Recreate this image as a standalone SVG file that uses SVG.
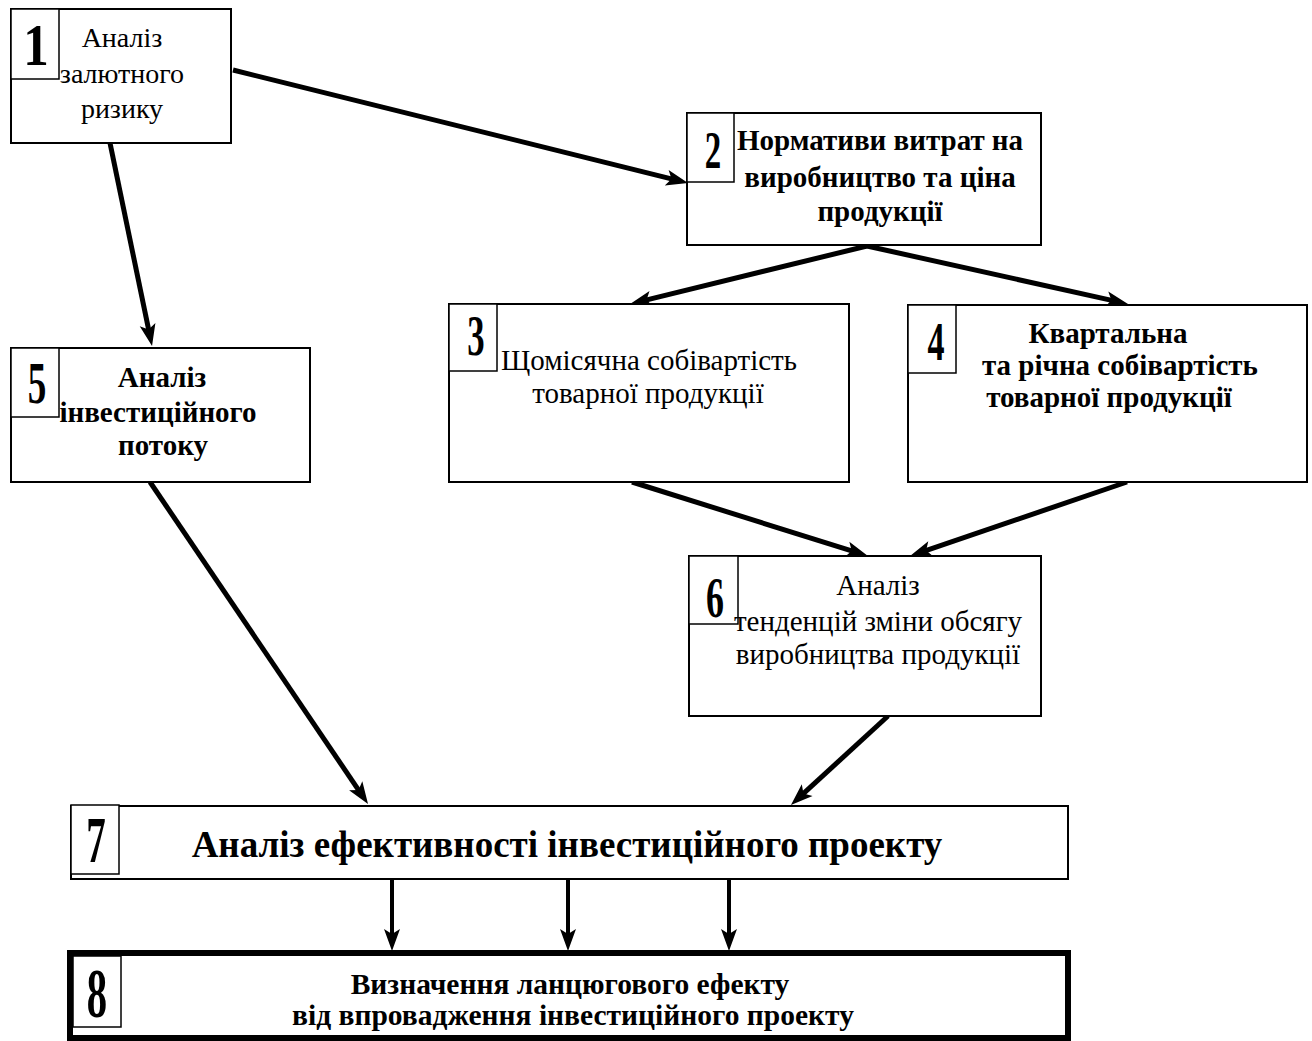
<svg xmlns="http://www.w3.org/2000/svg" width="1312" height="1041" viewBox="0 0 1312 1041">
<style>
.box{fill:#fff;stroke:#000;stroke-width:2}
.nb{fill:#fff;stroke:#000;stroke-width:1.5}
.t{font-family:"Liberation Serif","Times New Roman",serif;font-size:29px;fill:#000;text-anchor:middle}
.b{font-weight:bold}
.num{font-family:"Liberation Serif","Times New Roman",serif;font-weight:bold;fill:#000;text-anchor:middle}
.c{fill:none;stroke:#000;stroke-width:5;marker-end:url(#ah)}
.v{fill:none;stroke:#000;stroke-width:4;marker-end:url(#ah)}
</style>
<defs>
<marker id="ah" markerUnits="userSpaceOnUse" markerWidth="24" markerHeight="18" refX="10" refY="8" orient="auto" overflow="visible">
<path d="M0,0 L22,8 L0,16 L5,8 Z" fill="#000"/>
</marker>
</defs>
<rect width="1312" height="1041" fill="#fff"/>
<g id="connectors">
<path class="c" d="M233,70 L676.4,180.1"/>
<path class="c" d="M110,143 L149.6,334.3"/>
<path class="c" d="M867,246 L641.7,301.1"/>
<path class="c" d="M867,246 L1116.3,301.4"/>
<path class="c" d="M632,482 L856.5,552.4"/>
<path class="c" d="M1127,482 L921.4,552.1"/>
<path class="c" d="M150,482 L361.3,794.1"/>
<path class="c" d="M888,716 L799.8,796.9"/>
<path class="v" d="M392,880 L392,939"/>
<path class="v" d="M568,880 L568,939"/>
<path class="v" d="M729,880 L729,939"/>
</g>
<g id="node1">
<rect class="box" x="11" y="9" width="220" height="134"/>
<rect class="nb" x="11" y="9" width="48" height="70"/>
<text class="num" font-size="60" transform="translate(36,65) scale(0.85,1)">1</text>
<text class="t" x="122" y="47" style="font-size:28px">Аналіз</text>
<text class="t" x="122" y="83" style="font-size:28px">залютного</text>
<text class="t" x="122" y="118" style="font-size:28px">ризику</text>
</g>
<g id="node2">
<rect class="box" x="687" y="113" width="354" height="132"/>
<rect class="nb" x="687" y="113" width="47" height="69"/>
<text class="num" font-size="53" transform="translate(713,168) scale(0.62,1)">2</text>
<text class="t b" x="880" y="150">Нормативи витрат на</text>
<text class="t b" x="880" y="187">виробництво та ціна</text>
<text class="t b" x="880" y="221">продукції</text>
</g>
<g id="node3">
<rect class="box" x="449" y="304" width="400" height="178"/>
<rect class="nb" x="449" y="304" width="48" height="67"/>
<text class="num" font-size="56" transform="translate(476,355) scale(0.62,1)">3</text>
<text class="t" x="649" y="370">Щомісячна собівартість</text>
<text class="t" x="648" y="403">товарної продукції</text>
</g>
<g id="node4">
<rect class="box" x="908" y="305" width="399" height="177"/>
<rect class="nb" x="908" y="305" width="48" height="68"/>
<text class="num" font-size="55" transform="translate(936,360) scale(0.62,1)">4</text>
<text class="t b" x="1108" y="343">Квартальна</text>
<text class="t b" x="1120" y="375">та річна собівартість</text>
<text class="t b" x="1109" y="407">товарної продукції</text>
</g>
<g id="node5">
<rect class="box" x="11" y="348" width="299" height="134"/>
<rect class="nb" x="11" y="348" width="48" height="69"/>
<text class="num" font-size="60" transform="translate(37,403) scale(0.62,1)">5</text>
<text class="t b" x="162" y="387">Аналіз</text>
<text class="t b" x="158" y="422">інвестиційного</text>
<text class="t b" x="163" y="455">потоку</text>
</g>
<g id="node6">
<rect class="box" x="689" y="556" width="352" height="160"/>
<rect class="nb" x="689" y="556" width="49" height="68"/>
<text class="num" font-size="58" transform="translate(715,617) scale(0.62,1)">6</text>
<text class="t" x="878" y="595">Аналіз</text>
<text class="t" x="878" y="631">тенденцій зміни обсягу</text>
<text class="t" x="878" y="664">виробництва продукції</text>
</g>
<g id="node7">
<rect class="box" x="71" y="806" width="997" height="73"/>
<rect class="nb" x="71" y="805" width="48" height="69"/>
<text class="num" font-size="65" transform="translate(96,862) scale(0.6,1)">7</text>
<text class="t b" x="567" y="857" style="font-size:37px">Аналіз ефективності інвестиційного проекту</text>
</g>
<g id="node8">
<rect x="70" y="953" width="998" height="85" fill="#fff" stroke="#000" stroke-width="6"/>
<rect class="nb" x="73" y="956" width="48" height="71"/>
<text class="num" font-size="70" transform="translate(97,1017) scale(0.58,1)">8</text>
<text class="t b" x="570" y="994" style="font-size:29.5px">Визначення ланцюгового ефекту</text>
<text class="t b" x="573" y="1025" style="font-size:29.5px">від впровадження інвестиційного проекту</text>
</g>
</svg>
